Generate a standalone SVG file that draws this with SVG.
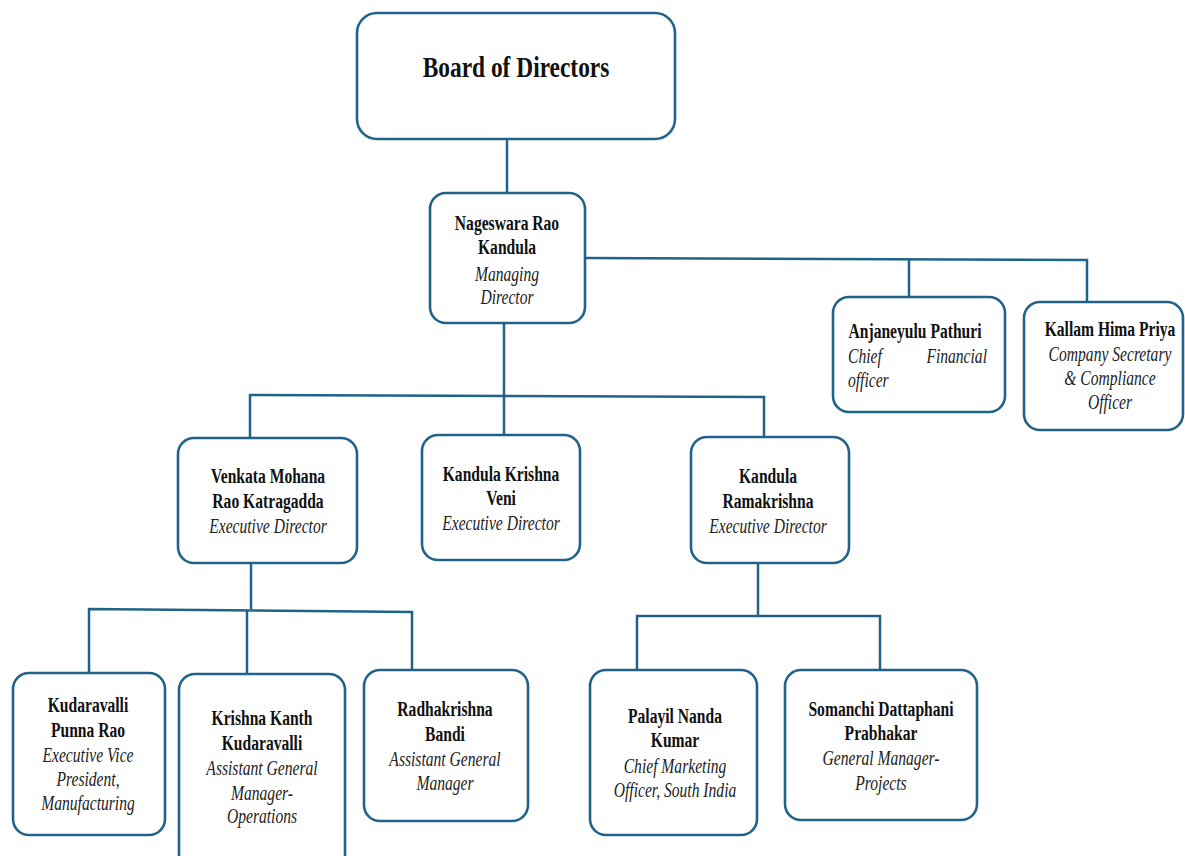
<svg xmlns="http://www.w3.org/2000/svg" width="1185" height="856" viewBox="0 0 1185 856">
<style>
.box{fill:#fff;stroke:#21628a;stroke-width:2.6}
.conn{fill:none;stroke:#21628a;stroke-width:2.5}
text{font-family:"Liberation Serif","Times New Roman",serif;font-size:20px;text-anchor:middle}
.n{font-weight:bold;fill:#111}
.t{font-style:italic;fill:#222}
.big{font-size:30px}
</style>
<rect x="0" y="0" width="1185" height="856" fill="#fff"/>
<g id="connectors">
<polyline class="conn" points="507,139 507,193"/>
<polyline class="conn" points="585,258 1087,260 1087,302"/>
<polyline class="conn" points="909,259 909,297"/>
<polyline class="conn" points="504,323 504,435"/>
<polyline class="conn" points="250,438 250,395 764,397 764,437"/>
<polyline class="conn" points="251,563 251,609"/>
<polyline class="conn" points="89,673 89,609 412,612 412,670"/>
<polyline class="conn" points="247,610 247,674"/>
<polyline class="conn" points="758,563 758,616"/>
<polyline class="conn" points="637,670 637,616 880,616 880,670"/>
</g>
<g id="board">
<rect class="box" x="357" y="13" width="318" height="126" rx="20"/>
<g transform="translate(516,0) scale(0.78,1)"><text class="n big" x="0" y="77">Board of Directors</text></g>
</g>
<g id="nageswara">
<rect class="box" x="430" y="193" width="155" height="130" rx="16"/>
<g transform="translate(507,0) scale(0.78,1)">
<text class="n" x="0" y="230">Nageswara Rao</text>
<text class="n" x="0" y="254">Kandula</text>
<text class="t" x="0" y="281">Managing</text>
<text class="t" x="0" y="304">Director</text>
</g>
</g>
<g id="anjaneyulu">
<rect class="box" x="833" y="297" width="172" height="115" rx="16"/>
<g transform="translate(915,0) scale(0.78,1)">
<text class="n" x="0" y="338">Anjaneyulu Pathuri</text>
<text class="t" x="-85.9" y="363" style="text-anchor:start">Chief</text>
<text class="t" x="92.3" y="363" style="text-anchor:end">Financial</text>
<text class="t" x="-85.9" y="387" style="text-anchor:start">officer</text>
</g>
</g>
<g id="kallam">
<rect class="box" x="1024" y="302" width="159" height="128" rx="16"/>
<g transform="translate(1110,0) scale(0.78,1)">
<text class="n" x="0" y="336">Kallam Hima Priya</text>
<text class="t" x="0" y="361">Company Secretary</text>
<text class="t" x="0" y="385">&amp; Compliance</text>
<text class="t" x="0" y="409">Officer</text>
</g>
</g>
<g id="venkata">
<rect class="box" x="178" y="438" width="179" height="125" rx="16"/>
<g transform="translate(268,0) scale(0.78,1)">
<text class="n" x="0" y="483">Venkata Mohana</text>
<text class="n" x="0" y="508">Rao Katragadda</text>
<text class="t" x="0" y="533">Executive Director</text>
</g>
</g>
<g id="krishnaveni">
<rect class="box" x="422" y="435" width="158" height="125" rx="16"/>
<g transform="translate(501,0) scale(0.78,1)">
<text class="n" x="0" y="481">Kandula Krishna</text>
<text class="n" x="0" y="505">Veni</text>
<text class="t" x="0" y="530">Executive Director</text>
</g>
</g>
<g id="ramakrishna">
<rect class="box" x="691" y="437" width="158" height="126" rx="16"/>
<g transform="translate(768,0) scale(0.78,1)">
<text class="n" x="0" y="483">Kandula</text>
<text class="n" x="0" y="508">Ramakrishna</text>
<text class="t" x="0" y="533">Executive Director</text>
</g>
</g>
<g id="punnarao">
<rect class="box" x="13" y="673" width="152" height="162" rx="16"/>
<g transform="translate(88,0) scale(0.78,1)">
<text class="n" x="0" y="712">Kudaravalli</text>
<text class="n" x="0" y="737">Punna Rao</text>
<text class="t" x="0" y="762">Executive Vice</text>
<text class="t" x="0" y="786">President,</text>
<text class="t" x="0" y="810">Manufacturing</text>
</g>
</g>
<g id="krishnakanth">
<rect class="box" x="179" y="674" width="166" height="200" rx="16"/>
<g transform="translate(262,0) scale(0.78,1)">
<text class="n" x="0" y="725">Krishna Kanth</text>
<text class="n" x="0" y="750">Kudaravalli</text>
<text class="t" x="0" y="775">Assistant General</text>
<text class="t" x="0" y="800">Manager-</text>
<text class="t" x="0" y="823">Operations</text>
</g>
</g>
<g id="radhakrishna">
<rect class="box" x="364" y="670" width="164" height="151" rx="16"/>
<g transform="translate(445,0) scale(0.78,1)">
<text class="n" x="0" y="716">Radhakrishna</text>
<text class="n" x="0" y="741">Bandi</text>
<text class="t" x="0" y="766">Assistant General</text>
<text class="t" x="0" y="790">Manager</text>
</g>
</g>
<g id="palayil">
<rect class="box" x="590" y="670" width="167" height="165" rx="16"/>
<g transform="translate(675,0) scale(0.78,1)">
<text class="n" x="0" y="723">Palayil Nanda</text>
<text class="n" x="0" y="747">Kumar</text>
<text class="t" x="0" y="773">Chief Marketing</text>
<text class="t" x="0" y="797">Officer, South India</text>
</g>
</g>
<g id="somanchi">
<rect class="box" x="785" y="670" width="192" height="150" rx="16"/>
<g transform="translate(881,0) scale(0.78,1)">
<text class="n" x="0" y="716">Somanchi Dattaphani</text>
<text class="n" x="0" y="740">Prabhakar</text>
<text class="t" x="0" y="765">General Manager-</text>
<text class="t" x="0" y="790">Projects</text>
</g>
</g>
</svg>
